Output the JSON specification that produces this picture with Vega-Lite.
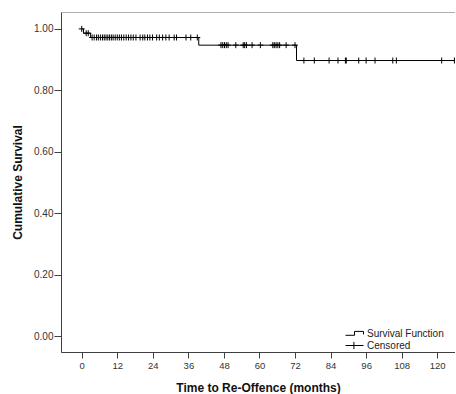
{
  "$schema": "https://vega.github.io/schema/vega-lite/v6.json",
  "autosize": "none",
  "padding": {"left": 61, "top": 12, "right": 0, "bottom": 42},
  "width": 394,
  "height": 340,
  "background": "white",
  "config": {
    "view": {"stroke": "#b0b0b0", "strokeWidth": 1},
    "font": "Liberation Sans",
    "axis": {
      "grid": false,
      "domainColor": "#404040",
      "tickColor": "#404040",
      "labelColor": "#333333",
      "labelFont": "Liberation Sans",
      "labelFontSize": 9.5,
      "titleFont": "Liberation Sans",
      "titleFontSize": 12,
      "titleFontWeight": "bold",
      "titleColor": "#111111"
    }
  },
  "datasets": {
    "curve": [
      {"time": 0, "surv": 1.0},
      {"time": 0.6, "surv": 0.986},
      {"time": 3, "surv": 0.972},
      {"time": 39.5, "surv": 0.947},
      {"time": 72.5, "surv": 0.897},
      {"time": 126, "surv": 0.897}
    ],
    "censored": [
      {"time": 0, "surv": 1.0},
      {"time": 1.5, "surv": 0.986},
      {"time": 2.2, "surv": 0.986},
      {"time": 3.5, "surv": 0.972},
      {"time": 4.2, "surv": 0.972},
      {"time": 5, "surv": 0.972},
      {"time": 5.6, "surv": 0.972},
      {"time": 6.3, "surv": 0.972},
      {"time": 7, "surv": 0.972},
      {"time": 7.6, "surv": 0.972},
      {"time": 8.2, "surv": 0.972},
      {"time": 8.8, "surv": 0.972},
      {"time": 9.4, "surv": 0.972},
      {"time": 10, "surv": 0.972},
      {"time": 10.6, "surv": 0.972},
      {"time": 11.3, "surv": 0.972},
      {"time": 12, "surv": 0.972},
      {"time": 12.7, "surv": 0.972},
      {"time": 13.4, "surv": 0.972},
      {"time": 14.2, "surv": 0.972},
      {"time": 15, "surv": 0.972},
      {"time": 15.8, "surv": 0.972},
      {"time": 16.6, "surv": 0.972},
      {"time": 17.4, "surv": 0.972},
      {"time": 18.3, "surv": 0.972},
      {"time": 19.7, "surv": 0.972},
      {"time": 20.6, "surv": 0.972},
      {"time": 21.3, "surv": 0.972},
      {"time": 22.2, "surv": 0.972},
      {"time": 23, "surv": 0.972},
      {"time": 23.9, "surv": 0.972},
      {"time": 25.3, "surv": 0.972},
      {"time": 26.2, "surv": 0.972},
      {"time": 27.3, "surv": 0.972},
      {"time": 28.4, "surv": 0.972},
      {"time": 29.5, "surv": 0.972},
      {"time": 31.2, "surv": 0.972},
      {"time": 32, "surv": 0.972},
      {"time": 35.2, "surv": 0.972},
      {"time": 36.8, "surv": 0.972},
      {"time": 39, "surv": 0.972},
      {"time": 47, "surv": 0.947},
      {"time": 47.6, "surv": 0.947},
      {"time": 48.2, "surv": 0.947},
      {"time": 48.8, "surv": 0.947},
      {"time": 49.4, "surv": 0.947},
      {"time": 52, "surv": 0.947},
      {"time": 54.5, "surv": 0.947},
      {"time": 55, "surv": 0.947},
      {"time": 55.6, "surv": 0.947},
      {"time": 57.5, "surv": 0.947},
      {"time": 60.3, "surv": 0.947},
      {"time": 64.5, "surv": 0.947},
      {"time": 65, "surv": 0.947},
      {"time": 65.6, "surv": 0.947},
      {"time": 66.2, "surv": 0.947},
      {"time": 66.8, "surv": 0.947},
      {"time": 69, "surv": 0.947},
      {"time": 72, "surv": 0.947},
      {"time": 75, "surv": 0.897},
      {"time": 78.5, "surv": 0.897},
      {"time": 83.5, "surv": 0.897},
      {"time": 86.5, "surv": 0.897},
      {"time": 89, "surv": 0.897},
      {"time": 89.3, "surv": 0.897},
      {"time": 93.5, "surv": 0.897},
      {"time": 96, "surv": 0.897},
      {"time": 99, "surv": 0.897},
      {"time": 105, "surv": 0.897},
      {"time": 106.2, "surv": 0.897},
      {"time": 121.5, "surv": 0.897},
      {"time": 125.8, "surv": 0.897}
    ]
  },
  "encoding": {
    "x": {
      "field": "time", "type": "quantitative",
      "scale": {"domain": [-7, 126], "nice": false, "zero": false},
      "axis": {
        "title": "Time to Re-Offence (months)",
        "values": [0, 12, 24, 36, 48, 60, 72, 84, 96, 108, 120],
        "tickSize": 6, "labelPadding": 2, "titlePadding": 13
      }
    },
    "y": {
      "field": "surv", "type": "quantitative",
      "scale": {"domain": [-0.052, 1.055], "nice": false, "zero": false},
      "axis": {
        "title": "Cumulative Survival",
        "values": [0, 0.2, 0.4, 0.6, 0.8, 1.0],
        "format": ".2f",
        "labelFontSize": 10,
        "tickSize": 7, "labelPadding": 1, "titlePadding": 9
      }
    }
  },
  "layer": [
    {
      "data": {"name": "curve"},
      "mark": {"type": "line", "interpolate": "step-after", "color": "#000000", "strokeWidth": 1}
    },
    {
      "data": {"name": "censored"},
      "mark": {"type": "point", "shape": "M-1,0H1M0,-1V1", "size": 36, "filled": false, "stroke": "#000000", "strokeWidth": 1, "opacity": 1}
    },
    {
      "data": {"name": "curve"},
      "mark": {"type": "point", "filled": false, "opacity": 0, "stroke": "#000000"},
      "encoding": {
        "shape": {
          "datum": "Censored",
          "scale": {
            "domain": ["Survival Function", "Censored"],
            "range": ["M-1.5,0.3H0V-0.35H1.5V0.15", "M-1.5,0H1.5M-0.1,-0.6V0.6"]
          },
          "legend": {
            "title": null,
            "orient": "none",
            "legendX": 287,
            "legendY": 315,
            "symbolSize": 144,
            "symbolOpacity": 1,
            "symbolStrokeColor": "#000000",
            "symbolFillColor": "transparent",
            "symbolStrokeWidth": 1,
            "labelFont": "Liberation Sans",
            "labelFontSize": 10,
            "labelColor": "#222222",
            "labelOffset": 6,
            "rowPadding": 0,
            "padding": 0
          }
        }
      }
    }
  ]
}
